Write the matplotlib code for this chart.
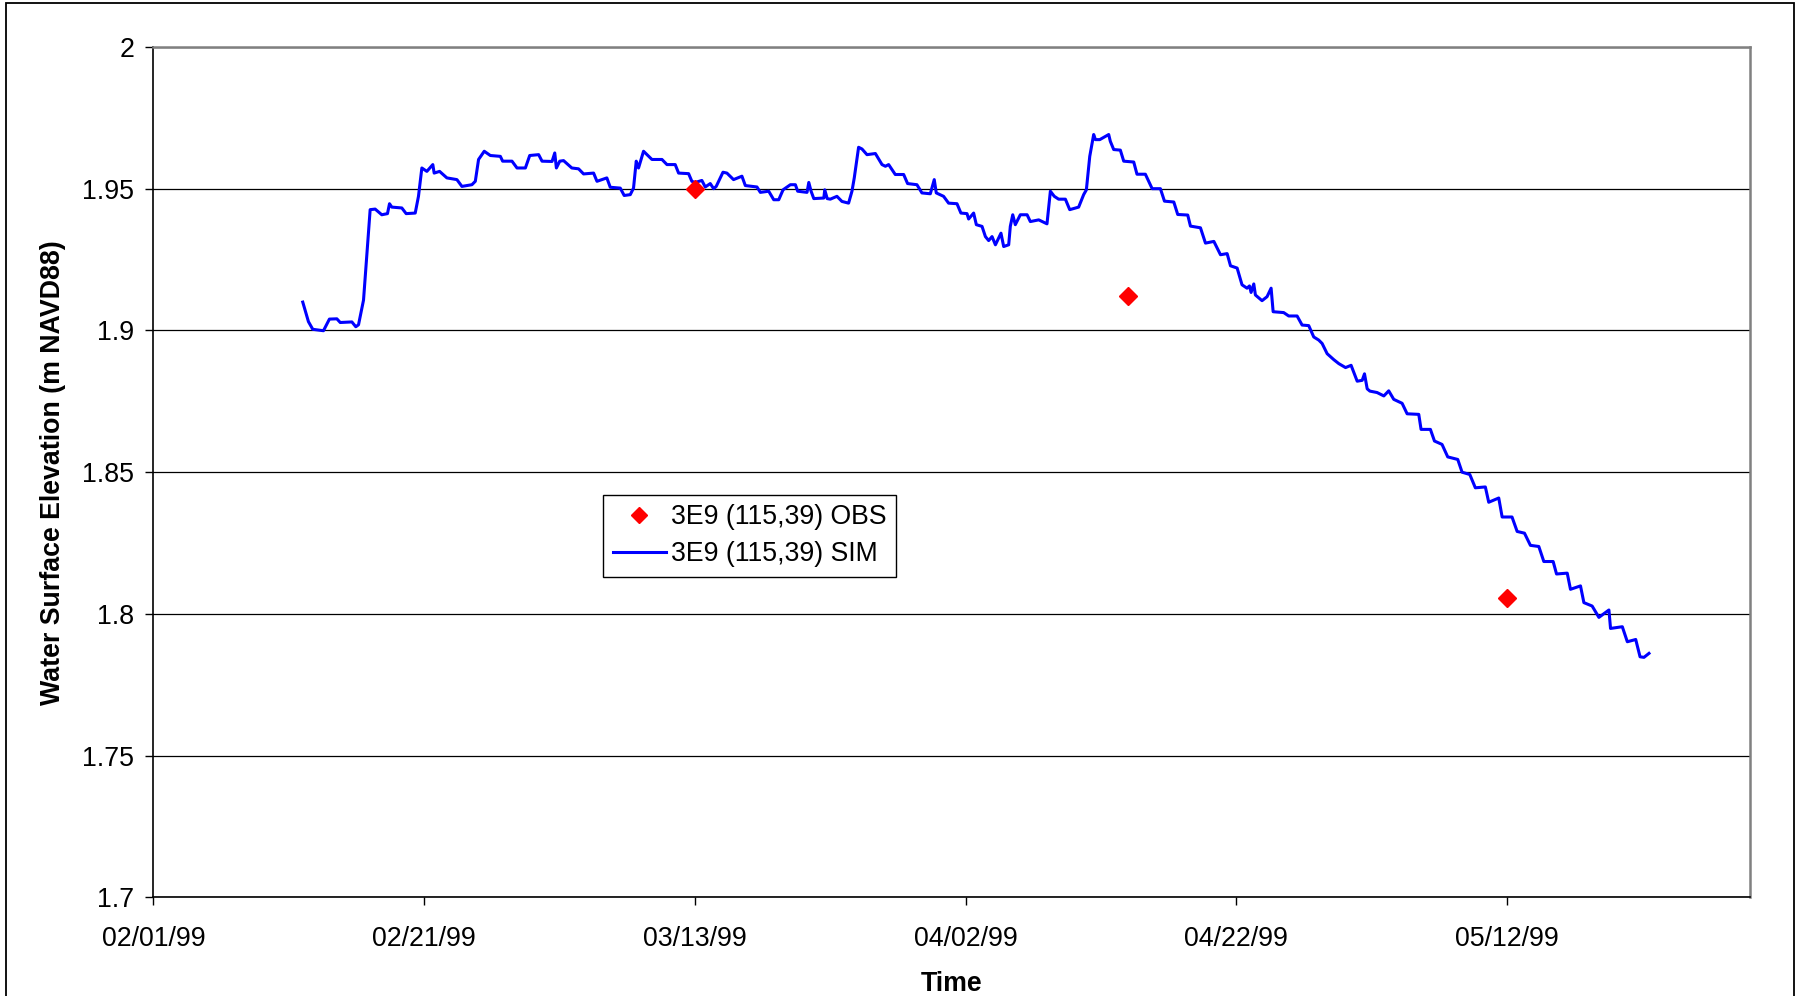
import datetime as dt
import matplotlib
matplotlib.use('Agg')
import matplotlib.pyplot as plt
import matplotlib.dates as mdates
import matplotlib.patches as patches
from matplotlib.lines import Line2D
from matplotlib.ticker import FuncFormatter

plt.rcParams['font.family'] = ['Liberation Sans', 'DejaVu Sans']

start = dt.datetime(1999, 2, 1)

# simulated series, days after 02/01/99
sim_day = [11.03, 11.45, 11.77, 12.56, 13.0, 13.55, 13.8, 14.66, 14.95, 15.15,
           15.52, 16.01, 16.38, 16.87, 17.29, 17.44, 17.61, 18.35, 18.67, 19.34,
           19.58, 19.83, 20.2, 20.64, 20.74, 21.14, 21.68, 22.42, 22.79, 23.53,
           23.78, 24.02, 24.44, 24.89, 25.63, 25.8, 26.49, 26.86, 27.48, 27.8,
           28.46, 28.71, 29.45, 29.65, 29.77, 30.02, 30.3, 30.91, 31.41, 31.78,
           32.52, 32.77, 33.5, 33.75, 34.49, 34.78, 35.23, 35.47, 35.67, 35.84,
           36.21, 36.83, 37.57, 37.94, 38.55, 38.8, 39.54, 39.78, 40.03, 40.52,
           40.77, 41.14, 41.39, 41.58, 42.08, 42.37, 42.86, 43.48, 43.73, 44.59,
           44.84, 45.46, 45.83, 46.2, 46.52, 47.06, 47.43, 47.6, 48.29, 48.42,
           48.59, 48.79, 49.53, 49.6, 49.78, 50.01, 50.5, 50.87, 51.36, 51.61,
           51.78, 52.1, 52.35, 52.72, 53.34, 53.83, 54.08, 54.32, 54.81, 55.43,
           55.72, 56.41, 56.78, 57.4, 57.69, 57.84, 58.38, 58.75, 59.37, 59.66,
           60.11, 60.23, 60.6, 60.8, 61.22, 61.47, 61.71, 61.96, 62.21, 62.62,
           62.82, 63.19, 63.31, 63.49, 63.68, 64.05, 64.55, 64.79, 65.41, 66.02,
           66.27, 66.56, 66.88, 67.38, 67.7, 68.36, 68.73, 68.93, 69.18, 69.47,
           69.6, 69.92, 70.58, 70.7, 70.95, 71.44, 71.69, 72.43, 72.67, 73.29,
           73.79, 74.4, 74.7, 75.39, 75.68, 76.42, 76.62, 77.36, 77.73, 78.35,
           78.84, 79.33, 79.58, 80.07, 80.43, 80.8, 80.98, 81.1, 81.3, 81.42,
           81.91, 82.28, 82.58, 82.73, 83.51, 83.88, 84.5, 84.87, 85.36, 85.73,
           86.1, 86.35, 86.72, 87.21, 87.58, 88.08, 88.49, 88.94, 89.31, 89.48,
           89.68, 89.88, 90.41, 90.91, 91.27, 91.64, 92.26, 92.63, 93.49, 93.66,
           94.35, 94.65, 95.21, 95.63, 96.37, 96.69, 97.26, 97.67, 98.41, 98.66,
           99.4, 99.65, 100.38, 100.76, 101.3, 101.74, 102.36, 102.73, 103.42, 103.67,
           104.46, 104.7, 105.44, 105.69, 106.3, 106.8, 107.54, 107.66, 108.53, 108.9,
           109.52, 109.84, 110.13, 110.5]
sim_wse = [1.910, 1.9031, 1.9004, 1.8999, 1.904, 1.9041, 1.9028, 1.903, 1.9013, 1.902,
           1.9107, 1.9426, 1.9428, 1.9408, 1.9412, 1.9447, 1.9435, 1.9432, 1.9412, 1.9414,
           1.9473, 1.9573, 1.9561, 1.9585, 1.9555, 1.9561, 1.9538, 1.9532, 1.9508, 1.9514,
           1.9526, 1.9603, 1.9632, 1.9617, 1.9614, 1.9597, 1.9597, 1.9573, 1.9573, 1.9617,
           1.962, 1.9597, 1.9596, 1.9626, 1.9573, 1.9597, 1.9599, 1.9573, 1.957, 1.9552,
           1.9555, 1.9526, 1.9538, 1.9505, 1.9502, 1.9476, 1.9479, 1.9502, 1.9597, 1.9573,
           1.9632, 1.9603, 1.9603, 1.9585, 1.9585, 1.9555, 1.9553, 1.9526, 1.9522, 1.9529,
           1.9506, 1.9518, 1.950, 1.9508, 1.9558, 1.9555, 1.9532, 1.9544, 1.9511, 1.9506,
           1.9487, 1.9491, 1.9461, 1.9461, 1.9496, 1.9514, 1.9514, 1.9491, 1.9487, 1.9522,
           1.9491, 1.9465, 1.9467, 1.9496, 1.9465, 1.9463, 1.9473, 1.9455, 1.9449, 1.9491,
           1.9538, 1.9646, 1.964, 1.962, 1.9624, 1.9585, 1.9579, 1.9585, 1.955, 1.955,
           1.9518, 1.9514, 1.9485, 1.9482, 1.9532, 1.9485, 1.9473, 1.9449, 1.9447, 1.9414,
           1.9412, 1.9393, 1.9414, 1.9373, 1.9367, 1.9331, 1.9317, 1.9331, 1.9302, 1.9343,
           1.9296, 1.9302, 1.9367, 1.9408, 1.9373, 1.9408, 1.9408, 1.9384, 1.939, 1.9376,
           1.9491, 1.9473, 1.9463, 1.9463, 1.9426, 1.9435, 1.9479, 1.9496, 1.9614, 1.9691,
           1.9673, 1.9673, 1.9691, 1.9667, 1.9638, 1.9636, 1.9597, 1.9594, 1.9551, 1.9551,
           1.950, 1.950, 1.9456, 1.9453, 1.9409, 1.9407, 1.9368, 1.9362, 1.9308, 1.9314,
           1.9267, 1.9271, 1.9228, 1.922, 1.9161, 1.9149, 1.9157, 1.9134, 1.9164, 1.9125,
           1.9105, 1.9119, 1.9149, 1.9066, 1.9063, 1.9051, 1.9051, 1.9019, 1.9017, 1.8977,
           1.8966, 1.8954, 1.8918, 1.8897, 1.8883, 1.8869, 1.8877, 1.8821, 1.8824, 1.8847,
           1.8794, 1.8786, 1.8781, 1.8769, 1.8787, 1.8757, 1.8743, 1.8706, 1.8704, 1.8651,
           1.8651, 1.861, 1.8598, 1.8554, 1.8545, 1.850, 1.8492, 1.8445, 1.8448, 1.8394,
           1.8409, 1.8342, 1.8342, 1.8291, 1.8285, 1.8242, 1.8238, 1.8185, 1.8185, 1.8141,
           1.8144, 1.8087, 1.8099, 1.804, 1.8028, 1.7988, 1.8014, 1.7949, 1.7955, 1.7902,
           1.791, 1.7849, 1.7847, 1.7861]

# observations
obs_day = [40, 72, 100]
obs_wse = [1.950, 1.912, 1.8055]

obs_label = '3E9 (115,39) OBS'
sim_label = '3E9 (115,39) SIM'

sim_t = [start + dt.timedelta(days=d) for d in sim_day]
obs_t = [start + dt.timedelta(days=d) for d in obs_day]

fig = plt.figure(figsize=(17.95, 9.96), dpi=100)
ax = fig.add_axes([0.0855, 0.0989, 0.8897, 0.854])

ax.plot(sim_t, sim_wse, color='#0000ff', lw=2.2, zorder=3)
ax.plot(obs_t, obs_wse, 'D', color='#ff0000', ms=9, mec='#ff0000', ls='none', zorder=4)

ax.set_xlim(start, start + dt.timedelta(days=118))
ax.set_ylim(1.7, 2.0)
ax.set_xticks([start + dt.timedelta(days=20 * i) for i in range(6)])
ax.xaxis.set_major_formatter(mdates.DateFormatter('%m/%d/%y'))
ax.set_yticks([1.7, 1.75, 1.8, 1.85, 1.9, 1.95, 2.0])
ax.yaxis.set_major_formatter(FuncFormatter(lambda v, p: '%g' % round(v, 2)))

ax.yaxis.grid(True, color='black', lw=0.9)
ax.set_axisbelow(True)
ax.tick_params(axis='both', labelsize=19.3, length=6, width=1, direction='out')
ax.tick_params(axis='y', pad=8)
ax.tick_params(axis='x', pad=14.5)

for s in ['left', 'bottom']:
    ax.spines[s].set_color('black')
    ax.spines[s].set_linewidth(1.2)
for s in ['top', 'right']:
    ax.spines[s].set_color('#808080')
    ax.spines[s].set_linewidth(1.8)

ax.set_xlabel('Time', fontsize=19.3, fontweight='bold')
ax.set_ylabel('Water Surface Elevation (m NAVD88)', fontsize=19.3, fontweight='bold')
ax.xaxis.set_label_coords(0.5, -0.087)
ax.yaxis.set_label_coords(-0.0545, 0.5)

handles = [Line2D([], [], marker='D', color='#ff0000', ls='none', ms=8),
           Line2D([], [], color='#0000ff', lw=2.2)]
leg = ax.legend(handles, [obs_label, sim_label], loc='upper left',
                bbox_to_anchor=(0.336, 0.5035), bbox_transform=fig.transFigure,
                fontsize=19.2, fancybox=False, framealpha=1, edgecolor='black',
                borderpad=0.36, handlelength=2.0, handletextpad=0.2, labelspacing=0.42,
                borderaxespad=0)
leg.get_frame().set_linewidth(1.0)

# outer chart border
border = patches.Rectangle((6 / 1795, -0.01), 1788 / 1795, 1 - 3 / 996 + 0.01,
                           transform=fig.transFigure, fill=False, ec='black', lw=1.3,
                           clip_on=False)
fig.patches.append(border)

fig.savefig('out.png', dpi=100)
